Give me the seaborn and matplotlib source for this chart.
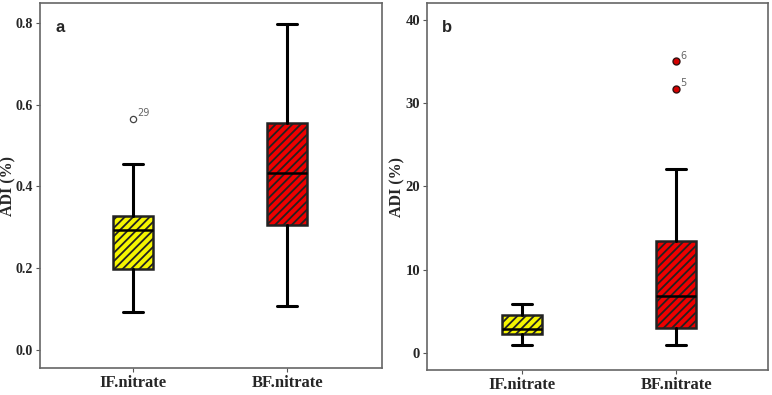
import numpy as np
import matplotlib.pyplot as plt
import seaborn as sns

groups = ['IF.nitrate', 'BF.nitrate']
box_colors = ['#f5f500', '#ee0000']

# panel a (five-number summaries)
a_low = [0.092, 0.108]
a_q1 = [0.198, 0.305]
a_med = [0.293, 0.434]
a_q3 = [0.327, 0.555]
a_high = [0.456, 0.797]
a_out = [[0.565], []]
a_out_lab = [['29'], []]

# panel b
b_low = [1.0, 1.0]
b_q1 = [2.3, 3.0]
b_med = [2.9, 6.85]
b_q3 = [4.6, 13.5]
b_high = [5.85, 22.1]
b_out = [[], [35.0, 31.7]]
b_out_lab = [[], ['6', '5']]

sns.set_style('white')
plt.rcParams['font.family'] = ['Liberation Serif', 'DejaVu Serif']
plt.rcParams['hatch.linewidth'] = 1.3
plt.rcParams['hatch.color'] = 'black'

fig = plt.figure(figsize=(7.72, 3.95), dpi=100)
axa = fig.add_axes([0.052, 0.068, 0.443, 0.924])
axb = fig.add_axes([0.553, 0.063, 0.442, 0.929])


def draw(ax, low, q1, med, q3, high, out, labs, filled, letter):
    stats = []
    for i in range(len(groups)):
        stats.append(dict(whislo=low[i], q1=q1[i], med=med[i], q3=q3[i],
                          whishi=high[i], fliers=out[i], label=groups[i]))
    bp = ax.bxp(stats, positions=[0, 1], widths=0.26, patch_artist=True,
                showfliers=False,
                boxprops=dict(linewidth=1.8, edgecolor='#222222'),
                medianprops=dict(color='black', linewidth=1.8),
                whiskerprops=dict(color='black', linewidth=2.2),
                capprops=dict(color='black', linewidth=2.2))
    for patch, c in zip(bp['boxes'], box_colors):
        patch.set_facecolor(c)
        patch.set_hatch('////')
    for i in range(len(groups)):
        for v, t in zip(out[i], labs[i]):
            if filled:
                ax.plot(i, v, 'o', ms=5, mfc='#d40000', mec='#331111', mew=1)
            else:
                ax.plot(i, v, 'o', ms=4.5, mfc='white', mec='#444444', mew=0.9)
            ax.annotate(t, (i, v), xytext=(3, 2), textcoords='offset points',
                        fontsize=7, color='#666666', family='DejaVu Sans')
    ax.text(0.045, 0.955, letter, transform=ax.transAxes, fontsize=12,
            fontweight='bold', family='Liberation Sans', va='top')
    ax.set_xticks([0, 1])
    ax.set_xticklabels(groups, fontsize=12, fontweight='bold')
    ax.set_ylabel('ADI (%)', fontsize=11.5, fontweight='bold')
    ax.tick_params(axis='both', direction='out', length=3, width=0.8,
                   color='#555555', pad=2, left=True, bottom=True)
    for s in ax.spines.values():
        s.set_color('#666666')
        s.set_linewidth(1.2)


draw(axa, a_low, a_q1, a_med, a_q3, a_high, a_out, a_out_lab, False, 'a')
axa.set_xlim(-0.6, 1.613)
axa.set_ylim(-0.044, 0.848)
axa.set_yticks([0.0, 0.2, 0.4, 0.6, 0.8])
axa.set_yticklabels(['0.0', '0.2', '0.4', '0.6', '0.8'], fontweight='bold', fontsize=10)
axa.yaxis.set_label_coords(-0.068, 0.5)

draw(axb, b_low, b_q1, b_med, b_q3, b_high, b_out, b_out_lab, True, 'b')
axb.set_xlim(-0.617, 1.597)
axb.set_ylim(-2.05, 42.0)
axb.set_yticks([0, 10, 20, 30, 40])
axb.set_yticklabels(['0', '10', '20', '30', '40'], fontweight='bold', fontsize=10.5)
axb.yaxis.set_label_coords(-0.062, 0.5)

fig.savefig('out.png', dpi=100)
